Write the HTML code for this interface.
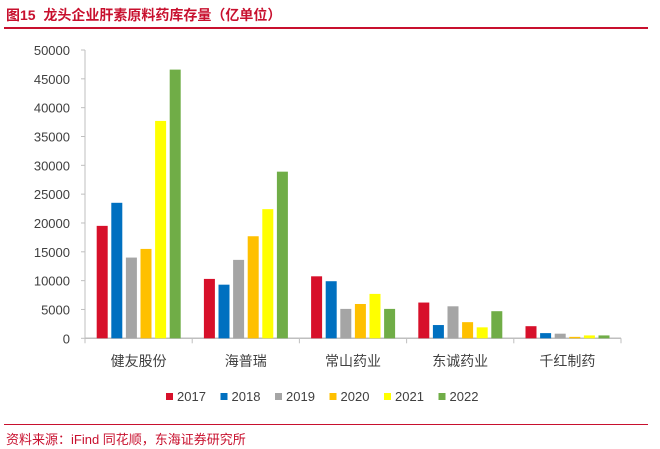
<!DOCTYPE html>
<html><head><meta charset="utf-8"><style>
body{margin:0;width:660px;height:449px;background:#fff;font-family:"Liberation Sans","Noto Sans CJK SC",sans-serif;overflow:hidden;position:relative}
.t{position:absolute;white-space:nowrap}
</style></head><body>
<div class="t" style="left:6px;top:5px;font-size:14px;font-weight:bold;color:#c8102e">图15&nbsp;&nbsp;龙头企业肝素原料药库存量（亿单位）</div>
<div style="position:absolute;left:4px;top:27px;width:644px;height:2px;background:#c8102e"></div>
<svg id="c" width="660" height="449" style="position:absolute;left:0;top:0"></svg>
<div style="position:absolute;left:4px;top:424px;width:644px;height:1px;background:#c8102e"></div>
<div class="t" style="left:6px;top:429px;font-size:13px;color:#c8102e">资料来源：iFind 同花顺，东海证券研究所</div>
<script>
const categories=["健友股份","海普瑞","常山药业","东诚药业","千红制药"];
const years=["2017","2018","2019","2020","2021","2022"];
const colors=["#d7102a","#0070c0","#a5a5a5","#ffc000","#ffff00","#70ad47"];
const s2017=[19500,10300,10750,6200,2100];
const s2018=[23500,9300,9900,2300,900];
const s2019=[14000,13600,5100,5550,800];
const s2020=[15500,17700,5950,2800,250];
const s2021=[37700,22400,7700,1900,500];
const s2022=[46600,28900,5100,4700,500];
const series=[s2017,s2018,s2019,s2020,s2021,s2022];
const ticks=[0,5000,10000,15000,20000,25000,30000,35000,40000,45000,50000];
const NS="http://www.w3.org/2000/svg",svg=document.getElementById('c');
const x0=85,x1=621,y0=338.3,y1=50,ymax=50000;
const y=v=>y0-(v/ymax)*(y0-y1);
const cw=(x1-x0)/categories.length;
const bx=(ci,si)=>x0+ci*cw+11.7+si*14.6;
function mk(t,a,txt){const e=document.createElementNS(NS,t);for(const k in a)e.setAttribute(k,a[k]);if(txt!=null)e.textContent=txt;svg.appendChild(e);return e;}
let e=mk('line',{x1:x0,y1:y0,x2:x0,y2:y1,stroke:'#bfbfbf'});

ticks.forEach(v=>{
 let l=mk('line',{x1:x0-4,x2:x0,y1:y(v),y2:y(v),stroke:'#bfbfbf'});
 
 let t=mk('text',{x:x0-15,y:y(v)+5,'text-anchor':'end','font-size':'13',fill:'#404040'},v);
 
});
e=mk('line',{x1:x0,y1:y0,x2:x1,y2:y0,stroke:'#bfbfbf','stroke-width':1.5});

for(let i=0;i<=categories.length;i++){let l=mk('line',{x1:x0+i*cw,x2:x0+i*cw,y1:y0,y2:y0+5,stroke:'#bfbfbf'});
 }
categories.forEach((c,ci)=>{
 let t=mk('text',{x:x0+ci*cw+cw/2,y:366,'text-anchor':'middle','font-size':'14',fill:'#404040'},c);
 
 series.forEach((s,si)=>{
  let r=mk('rect',{x:bx(ci,si),y:y(s[ci]),width:11,height:y0-y(s[ci]),fill:colors[si]});
  
 });
});
years.forEach((yr,i)=>{
 const lx=166+i*54.5;
 let r=mk('rect',{x:lx,y:393,width:7,height:7,fill:colors[i]});
 
 let t=mk('text',{x:lx+11,y:401,'font-size':'13',fill:'#404040'},yr);
 
});
</script>
</body></html>
